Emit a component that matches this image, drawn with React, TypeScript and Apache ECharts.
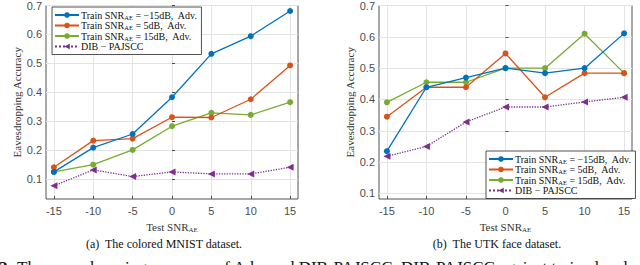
import React, { useEffect, useRef } from "react";
import * as echarts from "echarts";

const snrTicks = [-15, -10, -5, 0, 5, 10, 15];
const yTicks = [0.1, 0.2, 0.3, 0.4, 0.5, 0.6, 0.7];

const mnistTrainM15 = [0.125, 0.209, 0.256, 0.383, 0.533, 0.594, 0.681];
const mnistTrain5 = [0.141, 0.233, 0.24, 0.314, 0.313, 0.376, 0.493];
const mnistTrain15 = [0.125, 0.15, 0.201, 0.283, 0.329, 0.322, 0.366];
const mnistDib = [0.077, 0.132, 0.109, 0.125, 0.118, 0.118, 0.141];

const utkTrainM15 = [0.235, 0.439, 0.47, 0.5, 0.484, 0.5, 0.611];
const utkTrain5 = [0.345, 0.439, 0.439, 0.547, 0.407, 0.484, 0.484];
const utkTrain15 = [0.391, 0.455, 0.455, 0.5, 0.5, 0.61, 0.484];
const utkDib = [0.219, 0.25, 0.328, 0.376, 0.376, 0.392, 0.407];

const seriesNames = ["m15", "p5", "p15", "dib"];
const legendLabels: Record<string, string> = {
  m15: "Train SNR{sub|AE} = −15dB,  Adv.",
  p5: "Train SNR{sub|AE} = 5dB,  Adv.",
  p15: "Train SNR{sub|AE} = 15dB,  Adv.",
  dib: "DIB − PAJSCC",
};
const colors = ["#0072BD", "#D95319", "#77AC30", "#7E2F8E"];

const serif = "Liberation Serif";
const sans = "Liberation Sans";
const dark = "#262626";

function pairs(vals: number[]) {
  return snrTicks.map((x, i) => [x, vals[i]]);
}

function makeSeries(idx: number, sets: number[][]) {
  return sets.map((vals, i) => {
    const isDib = i === 3;
    return {
      type: "line",
      name: seriesNames[i],
      xAxisIndex: idx,
      yAxisIndex: idx,
      data: pairs(vals),
      color: colors[i],
      symbol: isDib ? "triangle" : "circle",
      symbolRotate: isDib ? 90 : 0,
      symbolSize: isDib ? 7 : 6,
      lineStyle: { width: 1.3, type: isDib ? "dotted" : "solid", color: colors[i] },
      itemStyle: { color: colors[i] },
      z: 10 - i,
    };
  });
}

function xAxis(idx: number) {
  return {
    type: "value",
    gridIndex: idx,
    min: -16,
    max: 16,
    axisLine: { show: false },
    axisTick: { show: true, inside: true, length: 3, customValues: snrTicks, lineStyle: { color: dark, width: 0.8 } },
    axisLabel: { customValues: snrTicks, margin: 6, color: "#4d4d4d", fontFamily: sans, fontSize: 11 },
    splitLine: { show: true, lineStyle: { color: "#e3e3e3", width: 1 } },
    name: "Test SNR{sub|AE}",
    nameLocation: "middle",
    nameGap: 22,
    nameTextStyle: {
      fontFamily: serif,
      fontSize: 11,
      color: "#333",
      rich: { sub: { fontFamily: serif, fontSize: 7, color: "#333", padding: [5, 0, 0, 0] } },
    },
  };
}

function yAxis(idx: number, min: number) {
  return {
    type: "value",
    gridIndex: idx,
    min,
    max: 0.7,
    axisLine: { show: false },
    axisTick: { show: true, inside: true, length: 3, customValues: yTicks, lineStyle: { color: dark, width: 0.8 } },
    axisLabel: {
      customValues: yTicks,
      margin: 4,
      color: "#4d4d4d",
      fontFamily: sans,
      fontSize: 11,
      formatter: (v: number) => v.toFixed(1),
    },
    splitLine: { show: true, lineStyle: { color: "#e3e3e3", width: 1 } },
    name: "Eavesdropping Accuracy",
    nameLocation: "middle",
    nameGap: 22,
    nameTextStyle: { fontFamily: serif, fontSize: 11, color: "#333" },
  };
}

function legend(left: number, top: number) {
  return {
    orient: "vertical",
    left,
    top,
    data: seriesNames,
    itemWidth: 24,
    itemHeight: 7,
    itemGap: 0,
    padding: [3, 4, 3, 2],
    borderColor: dark,
    borderWidth: 0.8,
    backgroundColor: "#fff",
    borderRadius: 0,
    formatter: (n: string) => legendLabels[n],
    textStyle: {
      fontFamily: serif,
      fontSize: 10,
      lineHeight: 10,
      color: "#111",
      padding: [0, 0, 0, -3],
      rich: { sub: { fontFamily: serif, fontSize: 6.5, color: "#111", padding: [4, 0, 0, 0] } },
    },
  };
}

export default function App() {
  const ref = useRef<HTMLDivElement>(null);
  useEffect(() => {
    if (!ref.current) return;
    const chart = echarts.init(ref.current, null, { renderer: "svg" });
    chart.setOption({
      animation: false,
      backgroundColor: "#fff",
      grid: [
        { left: 46, right: 342, top: 4, bottom: 66, show: true, borderColor: dark, borderWidth: 0.8, backgroundColor: "transparent" },
        { left: 379, right: 8, top: 4, bottom: 66, show: true, borderColor: dark, borderWidth: 0.8, backgroundColor: "transparent" },
      ],
      xAxis: [xAxis(0), xAxis(1)],
      yAxis: [yAxis(0, 0.0314), yAxis(1, 0.0823)],
      legend: [legend(52, 7), legend(486, 151)],
      series: [
        ...makeSeries(0, [mnistTrainM15, mnistTrain5, mnistTrain15, mnistDib]),
        ...makeSeries(1, [utkTrainM15, utkTrain5, utkTrain15, utkDib]),
      ],
      graphic: [
        {
          type: "text",
          x: 164,
          y: 244,
          style: { text: "(a)  The colored MNIST dataset.", fontFamily: serif, fontSize: 12, fill: "#111", align: "center", verticalAlign: "middle" },
        },
        {
          type: "text",
          x: 497,
          y: 244,
          style: { text: "(b)  The UTK face dataset.", fontFamily: serif, fontSize: 12, fill: "#111", align: "center", verticalAlign: "middle" },
        },
        {
          type: "text",
          x: -1,
          y: 267,
          style: { text: "2.", fontFamily: serif, fontWeight: "bold", fontSize: 17, fill: "#111", align: "left", verticalAlign: "middle" },
        },
        {
          type: "text",
          x: 17,
          y: 267,
          style: {
            text: "The eavesdropping accuracy of Adv. and DIB-PAJSCC. DIB-PAJSCC against trained and unseen eavesdroppers at",
            fontFamily: serif,
            fontSize: 17,
            fill: "#111",
            align: "left",
            verticalAlign: "middle",
          },
        },
      ],
    });
    return () => chart.dispose();
  }, []);
  return <div ref={ref} style={{ width: 640, height: 265, position: "absolute", left: 0, top: 0 }} />;
}
